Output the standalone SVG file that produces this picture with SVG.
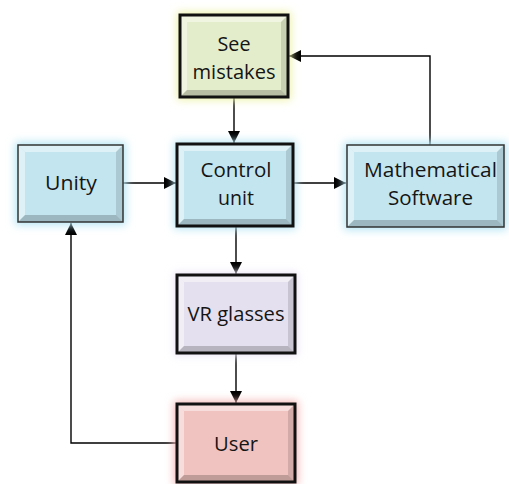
<svg xmlns="http://www.w3.org/2000/svg" width="509" height="484" viewBox="0 0 509 484">
<defs>
<filter id="glow" x="-30%" y="-30%" width="160%" height="160%"><feGaussianBlur stdDeviation="4"/></filter>
<marker id="arr" viewBox="0 0 10 10" refX="10" refY="5" markerWidth="15" markerHeight="12" markerUnits="userSpaceOnUse" orient="auto"><path d="M0,0 L10,5 L0,10 Z" fill="#000"/></marker>
</defs>
<style>
.lbl{font-family:"Open Sans","Liberation Sans",sans-serif;font-size:20.5px;fill:#151515;text-anchor:middle}
.hl{fill:#fff;opacity:.45}
.sh{fill:#000;opacity:.12}
.sh2{fill:#000;opacity:.2}
.thick{fill:none;stroke:#111;stroke-width:3}
.thin{fill:none;stroke:#333;stroke-width:1.5}
.conn{fill:none;stroke:#000;stroke-width:1.4}
</style>
<rect width="509" height="484" fill="#fff"/>
<g id="connectors">
<path class="conn" d="M234,97 V143" marker-end="url(#arr)"/>
<path class="conn" d="M123,183 H176" marker-end="url(#arr)"/>
<path class="conn" d="M293,183 H346" marker-end="url(#arr)"/>
<path class="conn" d="M430,145 V56 H289" marker-end="url(#arr)"/>
<path class="conn" d="M236,226 V274" marker-end="url(#arr)"/>
<path class="conn" d="M236,353 V403" marker-end="url(#arr)"/>
<path class="conn" d="M177,443 H71 V223" marker-end="url(#arr)"/>
</g>
<g id="see-mistakes">
<rect x="177" y="12" width="114" height="88" fill="#eef3a8" filter="url(#glow)"/>
<rect x="180" y="15" width="108" height="82" fill="#e4edcb"/>
<polygon class="hl" points="180,15 288,15 281,22 187,22"/>
<polygon class="hl" points="180,15 187,22 187,90 180,97"/>
<polygon class="sh" points="288,15 288,97 281,90 281,22"/>
<polygon class="sh2" points="180,97 288,97 281,90 187,90"/>
<rect class="thick" x="180" y="15" width="108" height="82"/>
<text class="lbl" x="234" y="51" textLength="33" lengthAdjust="spacingAndGlyphs">See</text>
<text class="lbl" x="234" y="79" textLength="83" lengthAdjust="spacingAndGlyphs">mistakes</text>
</g>
<g id="unity">
<rect x="15" y="142" width="111" height="83" fill="#b5e6f4" filter="url(#glow)"/>
<rect x="18" y="145" width="105" height="77" fill="#c3e5ef"/>
<polygon class="hl" points="18,145 123,145 116,152 25,152"/>
<polygon class="hl" points="18,145 25,152 25,215 18,222"/>
<polygon class="sh" points="123,145 123,222 116,215 116,152"/>
<polygon class="sh2" points="18,222 123,222 116,215 25,215"/>
<rect class="thin" x="18" y="145" width="105" height="77"/>
<text class="lbl" x="71" y="190" textLength="52" lengthAdjust="spacingAndGlyphs">Unity</text>
</g>
<g id="control-unit">
<rect x="174" y="141" width="122" height="88" fill="#b5e6f4" filter="url(#glow)"/>
<rect x="177" y="144" width="116" height="82" fill="#c3e5ef"/>
<polygon class="hl" points="177,144 293,144 286,151 184,151"/>
<polygon class="hl" points="177,144 184,151 184,219 177,226"/>
<polygon class="sh" points="293,144 293,226 286,219 286,151"/>
<polygon class="sh2" points="177,226 293,226 286,219 184,219"/>
<rect class="thick" x="177" y="144" width="116" height="82"/>
<text class="lbl" x="236" y="177" textLength="71" lengthAdjust="spacingAndGlyphs">Control</text>
<text class="lbl" x="236" y="205" textLength="36" lengthAdjust="spacingAndGlyphs">unit</text>
</g>
<g id="mathematical-software">
<rect x="344" y="142" width="163" height="88" fill="#b5e6f4" filter="url(#glow)"/>
<rect x="347" y="145" width="157" height="82" fill="#c3e5ef"/>
<polygon class="hl" points="347,145 504,145 497,152 354,152"/>
<polygon class="hl" points="347,145 354,152 354,220 347,227"/>
<polygon class="sh" points="504,145 504,227 497,220 497,152"/>
<polygon class="sh2" points="347,227 504,227 497,220 354,220"/>
<rect class="thin" x="347" y="145" width="157" height="82"/>
<text class="lbl" x="430.5" y="177" textLength="133" lengthAdjust="spacingAndGlyphs">Mathematical</text>
<text class="lbl" x="430.5" y="205" textLength="85" lengthAdjust="spacingAndGlyphs">Software</text>
</g>
<g id="vr-glasses">
<rect x="174" y="272" width="124" height="84" fill="#ede5f7" filter="url(#glow)"/>
<rect x="177" y="275" width="118" height="78" fill="#e5e0ef"/>
<polygon class="hl" points="177,275 295,275 288,282 184,282"/>
<polygon class="hl" points="177,275 184,282 184,346 177,353"/>
<polygon class="sh" points="295,275 295,353 288,346 288,282"/>
<polygon class="sh2" points="177,353 295,353 288,346 184,346"/>
<rect class="thick" x="177" y="275" width="118" height="78"/>
<text class="lbl" x="236" y="321" textLength="97" lengthAdjust="spacingAndGlyphs">VR glasses</text>
</g>
<g id="user">
<rect x="174" y="401" width="124" height="84" fill="#f5b5b5" filter="url(#glow)"/>
<rect x="177" y="404" width="118" height="78" fill="#f0c3c0"/>
<polygon class="hl" points="177,404 295,404 288,411 184,411"/>
<polygon class="hl" points="177,404 184,411 184,475 177,482"/>
<polygon class="sh" points="295,404 295,482 288,475 288,411"/>
<polygon class="sh2" points="177,482 295,482 288,475 184,475"/>
<rect class="thick" x="177" y="404" width="118" height="78"/>
<text class="lbl" x="236" y="451" textLength="44" lengthAdjust="spacingAndGlyphs">User</text>
</g>
</svg>
